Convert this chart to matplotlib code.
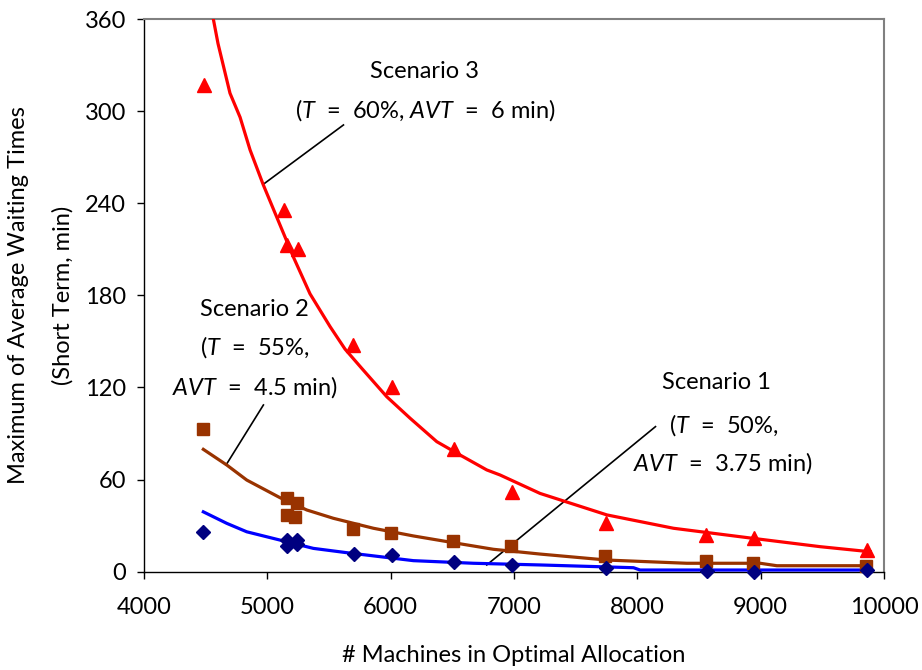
import matplotlib
matplotlib.use("Agg")
import matplotlib.pyplot as plt

plt.rcParams['font.family'] = ['Lato', 'DejaVu Sans']
plt.rcParams['mathtext.fontset'] = 'custom'
plt.rcParams['mathtext.rm'] = 'Lato'
plt.rcParams['mathtext.it'] = 'Lato:italic'

# Scenario 1 (T = 50%, AVT = 3.75 min)
s1_x = [4481, 5157, 5238, 5157, 5238, 5706, 6014, 6517, 6987, 7747, 8564, 8947, 9861]
s1_y = [26, 20.6, 20.6, 17, 18, 11.5, 10.9, 6.1, 4.4, 2.2, 0.7, 0.0, 1.0]
s1_fit_x = [4481, 4671, 4833, 5103, 5373, 5643, 5914, 6184, 6671, 7211, 7969, 8022, 9888]
s1_fit_y = [39, 31.5, 26, 20.6, 15.2, 12.4, 9.8, 7.2, 5.5, 4.4, 2.6, 1.1, 1.1]

# Scenario 2 (T = 55%, AVT = 4.5 min)
s2_x = [4481, 5157, 5238, 5157, 5225, 5698, 6003, 6509, 6976, 7739, 8555, 8941, 9853]
s2_y = [93, 48.2, 45, 37, 35.8, 27.8, 25.4, 20.2, 17, 10.2, 7.2, 5.9, 3.9]
s2_fit_x = [4481, 4671, 4833, 5103, 5320, 5535, 5860, 6184, 6509, 6833, 7211, 7753, 8401, 8996, 9131, 9888]
s2_fit_y = [79.7, 69.5, 59.7, 48.2, 40.2, 34.8, 28.3, 23.3, 18.9, 14.6, 11.5, 7.6, 5.5, 5.5, 3.9, 3.9]

# Scenario 3 (T = 60%, AVT = 6 min)
s3_x = [4489, 5135, 5157, 5251, 5697, 6009, 6514, 6982, 7747, 8558, 8947, 9861]
s3_y = [317, 235.6, 212.8, 210, 147.7, 120.5, 79.7, 52, 31.5, 23.9, 22.2, 14.1]
s3_fit_x = [4520, 4562, 4600, 4697, 4779, 4860, 4967, 5076, 5211, 5346, 5509, 5630, 5765,
            5968, 6157, 6374, 6563, 6779, 6887, 7211, 7753, 8293, 8941, 9483, 9888]
s3_fit_y = [385, 360, 344, 311.7, 296, 274.7, 252, 231, 205, 181, 159.6, 145, 132.5,
            114, 100, 84.7, 76, 66.3, 63, 51, 37, 28.3, 21.7, 16.3, 13]

x_ticks = [4000, 5000, 6000, 7000, 8000, 9000, 10000]
y_ticks = [0, 60, 120, 180, 240, 300, 360]

fig = plt.figure(figsize=(9.22, 6.70), dpi=100)
ax = fig.add_axes([0.1562, 0.1467, 0.8026, 0.8249])

ax.plot(s3_fit_x, s3_fit_y, color='#ff0000', lw=2.3, zorder=3, clip_on=True)
ax.plot(s2_fit_x, s2_fit_y, color='#993300', lw=2.3, zorder=3)
ax.plot(s1_fit_x, s1_fit_y, color='#0000ff', lw=2.3, zorder=3)

ax.plot(s3_x, s3_y, ls='none', marker='^', ms=10, color='#ff0000', mec='#ff0000', zorder=4, clip_on=False)
ax.plot(s2_x, s2_y, ls='none', marker='s', ms=9, color='#993300', mec='#993300', zorder=4, clip_on=False)
ax.plot(s1_x, s1_y, ls='none', marker='D', ms=7.5, color='#000080', mec='#000080', zorder=4, clip_on=False)

ax.set_xlim(4000, 10000)
ax.set_ylim(0, 360)
ax.set_xticks(x_ticks)
ax.set_yticks(y_ticks)
ax.tick_params(direction='out', length=5, width=1, labelsize=17)
ax.tick_params(axis='x', pad=13)
ax.tick_params(axis='y', pad=8)
for s in ['left', 'bottom']:
    ax.spines[s].set_color('black')
    ax.spines[s].set_linewidth(1)
for s in ['top', 'right']:
    ax.spines[s].set_color('#808080')
    ax.spines[s].set_linewidth(1.5)

ax.set_xlabel('# Machines in Optimal Allocation', fontsize=17, labelpad=20)
ax.set_ylabel('Maximum of Average Waiting Times\n(Short Term, min)', fontsize=17,
              labelpad=8, linespacing=2.3)

fs = 17
ax.text(6271, 325.7, 'Scenario 3', ha='center', va='center', fontsize=fs)
ax.text(6279, 300.8, r'($\mathit{T}$  =  60%, $\mathit{AVT}$  =  6 min)', ha='center', va='center', fontsize=fs)
ax.plot([5617, 4968], [291, 252.4], color='black', lw=1.2, zorder=2)

ax.text(4896, 170.5, 'Scenario 2', ha='center', va='center', fontsize=fs)
ax.text(4896, 146.4, r'($\mathit{T}$  =  55%,', ha='center', va='center', fontsize=fs)
ax.text(4896, 120.3, r'$\mathit{AVT}$  =  4.5 min)', ha='center', va='center', fontsize=fs)
ax.plot([4968, 4665], [108.6, 69.5], color='black', lw=1.2, zorder=2)

ax.text(8639, 123, 'Scenario 1', ha='center', va='center', fontsize=fs)
ax.text(8700, 95.6, r'($\mathit{T}$  =  50%,', ha='center', va='center', fontsize=fs)
ax.text(8690, 70.6, r'$\mathit{AVT}$  =  3.75 min)', ha='center', va='center', fontsize=fs)
ax.plot([8147, 6779], [94.5, 4.4], color='black', lw=1.2, zorder=2)

fig.savefig('out.png', dpi=100)
